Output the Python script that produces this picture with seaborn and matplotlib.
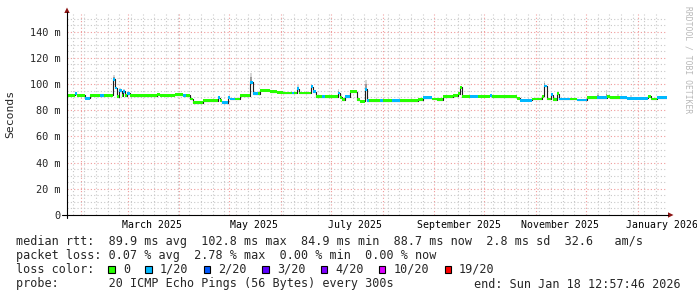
import matplotlib
matplotlib.use("Agg")
import matplotlib.pyplot as plt
import matplotlib.dates as mdates
import matplotlib.transforms as mtransforms
from matplotlib.patches import Rectangle, Polygon
from matplotlib.lines import Line2D
from matplotlib.ticker import MultipleLocator, FixedLocator, FixedFormatter, NullFormatter
import numpy as np
import pandas as pd
import seaborn as sns

# ---------------- data ----------------
start_time = "2025-01-23 12:57:46"
end_time = "2026-01-18 12:57:46"

# median rtt (ms) drawn as steps: day offset from start, value, loss colour index
seg_day = [0, 4.8, 6.0, 10.8, 13.8, 19.8, 22.2, 27.6, 28.8, 30.0, 31.2, 33.0, 33.6,
           34.8, 36.0, 37.8, 54.0, 55.8, 64.8, 69.6, 71.4, 73.8, 75.6, 81.6, 90.6,
           91.8, 93.0, 96.6, 97.8, 100.8, 103.8, 109.8, 111.6, 114.6, 115.8, 121.8,
           126.0, 129.6, 135.0, 136.2, 138.0, 139.2, 146.4, 147.6, 149.4, 153.0,
           154.8, 162.6, 163.8, 165.0, 166.8, 169.8, 174.0, 175.8, 178.8, 180.0,
           181.2, 187.8, 189.6, 195.0, 199.8, 210.6, 213.6, 219.0, 222.0, 225.6,
           231.6, 234.6, 235.8, 237.0, 241.8, 246.6, 253.8, 255.0, 270.0, 271.8,
           279.0, 285.0, 286.2, 288.0, 290.4, 291.6, 294.0, 295.2, 301.8, 306.0,
           312.0, 318.0, 324.0, 325.8, 331.8, 336.0, 348.6, 350.4, 354.0]
seg_median = [91.5, 92.5, 91.5, 89.2, 91.3, 91.0, 91.3, 103.5, 97.0, 90.2, 95.0, 91.0, 94.5,
              91.0, 93.0, 91.0, 92.0, 91.3, 91.8, 91.0, 91.5, 88.6, 85.6, 87.4, 89.4,
              87.4, 85.6, 89.4, 88.6, 88.6, 91.2, 101.5, 92.5, 92.5, 95.2, 94.2,
              93.7, 93.2, 93.2, 93.2, 96.3, 93.2, 98.0, 94.0, 90.2, 90.2,
              90.2, 93.2, 90.0, 88.1, 90.2, 94.0, 88.0, 86.8, 96.0, 87.4,
              87.4, 87.4, 87.4, 87.4, 87.4, 88.1, 89.4, 88.6, 88.1, 90.2,
              91.2, 92.5, 97.5, 90.7, 90.7, 90.7, 91.4, 90.2, 89.0, 87.6,
              88.6, 90.7, 98.5, 88.6, 91.9, 88.1, 92.5, 88.6, 88.6, 87.8,
              89.4, 89.4, 90.7, 89.4, 89.4, 89.2, 90.7, 88.6, 89.4]
seg_loss = [0, 1, 0, 1, 0, 1, 0, 1, 1, 0, 1, 0, 1,
            0, 1, 0, 0, 0, 0, 1, 0, 0, 0, 0, 1,
            0, 1, 1, 1, 0, 0, 1, 1, 0, 0, 0,
            0, 0, 1, 0, 1, 0, 1, 1, 0, 1,
            0, 1, 0, 0, 1, 0, 0, 0, 1, 1,
            0, 1, 0, 1, 0, 0, 1, 0, 0, 0,
            0, 0, 0, 0, 1, 0, 1, 0, 0, 1,
            0, 0, 1, 0, 1, 0, 0, 1, 0, 1,
            0, 1, 0, 0, 1, 1, 0, 0, 1]

# smoke (ping spread) peaks visible above the median
smoke_day = [27.6, 31.2, 33.6, 109.8, 138.0, 146.4, 162.6, 178.8, 235.8, 286.2,
             318.0, 323.4, 330.0, 337.8]
smoke_top = [107.0, 97.0, 96.0, 108.6, 99.0, 99.0, 96.5, 103.4, 98.5, 102.2,
             93.0, 95.5, 92.5, 91.5]

ytick_values = [0, 20, 40, 60, 80, 100, 120, 140]
ytick_labels = ["0", "20 m", "40 m", "60 m", "80 m", "100 m", "120 m", "140 m"]
month_labels = ["March 2025", "May 2025", "July 2025", "September 2025",
                "November 2025", "January 2026"]

loss_labels = ["0", "1/20", "2/20", "3/20", "4/20", "10/20", "19/20"]
loss_colors = ["#26ff00", "#00b8ff", "#0059ff", "#5e00ff", "#7e00ff", "#dd00ff", "#ff0000"]

legend_median = "median rtt:  89.9 ms avg  102.8 ms max  84.9 ms min  88.7 ms now  2.8 ms sd  32.6   am/s"
legend_loss = "packet loss: 0.07 % avg  2.78 % max  0.00 % min  0.00 % now"
legend_color = "loss color:"
legend_probe = "probe:       20 ICMP Echo Pings (56 Bytes) every 300s"
legend_end = "end: Sun Jan 18 12:57:46 2026"
y_unit = "Seconds"
watermark = "RRDTOOL / TOBI OETIKER"

# ---------------- layout ----------------
W, H = 697, 297
PL, PR, PT, PB = 67, 667, 14, 215
YMAX = 153.5

sns.set_style("white")
plt.rcParams["font.family"] = ["DejaVu Sans Mono"]

fig = plt.figure(figsize=(W / 100, H / 100), dpi=100)
fig.patch.set_facecolor("white")
ax = fig.add_axes([PL / W, 1 - PB / H, (PR - PL) / W, (PB - PT) / H])
ax.set_facecolor("white")

t0 = pd.Timestamp(start_time)
t1 = pd.Timestamp(end_time)
seg_t = [t0 + pd.Timedelta(days=d) for d in seg_day]
edges = seg_t + [t1]
df = pd.DataFrame({"time": edges, "median": seg_median + [seg_median[-1]]})

ax.set_xlim(t0, t1)
ax.set_ylim(0, YMAX)

# grid
ax.xaxis.set_major_locator(mdates.MonthLocator())
ax.xaxis.set_minor_locator(mdates.WeekdayLocator(byweekday=mdates.MO))
ax.xaxis.set_major_formatter(NullFormatter())
ax.yaxis.set_major_locator(FixedLocator(ytick_values))
ax.yaxis.set_major_formatter(FixedFormatter(ytick_labels))
ax.yaxis.set_minor_locator(MultipleLocator(5))
ax.set_axisbelow(True)
ax.grid(which="minor", color="#c8c8c8", ls=(0, (1, 2)), lw=0.8)
ax.grid(which="major", color="#f09a9a", ls=(0, (1, 2)), lw=0.8)
for s in ax.spines.values():
    s.set_visible(False)
ax.tick_params(axis="both", which="both", direction="out", color="black", width=0.7)
ax.tick_params(axis="both", which="major", length=2.2)
ax.tick_params(axis="both", which="minor", length=1.2)
ax.tick_params(axis="y", which="major", labelsize=7.4, pad=2.5)

# smoke
sw = pd.Timedelta(days=0.9)
for d, top in zip(smoke_day, smoke_top):
    k = max(i for i in range(len(seg_day)) if seg_day[i] <= d)
    m = seg_median[k]
    t = t0 + pd.Timedelta(days=d)
    ax.fill_between([t, t + sw], m, top, color="#d6d6d6", lw=0, zorder=2)
    ax.fill_between([t, t + sw], m, m + 0.55 * (top - m), color="#9c9c9c", lw=0, zorder=2)

# black median line
sns.lineplot(data=df, x="time", y="median", drawstyle="steps-post", color="#202020",
             lw=0.8, ax=ax, zorder=3, legend=False)

# loss coloured median band
hw = 1.1
for i in range(len(seg_day)):
    ax.fill_between([edges[i], edges[i + 1]], seg_median[i] - hw, seg_median[i] + hw,
                    color=loss_colors[seg_loss[i]], lw=0, zorder=4)

ax.set_xlabel("")
ax.set_ylabel("")

# month labels (centered about half a month after the month start)
blend = mtransforms.blended_transform_factory(ax.transData, fig.transFigure)
for lab in month_labels:
    tm = pd.to_datetime(lab, format="%B %Y") + pd.Timedelta(days=14.5)
    ax.text(tm, 1 - 225 / H, lab, transform=blend, ha="center", va="center",
            fontsize=7.1, color="black", clip_on=False)

# axes lines and arrows (pixel coords, y from top)
def P(x, y):
    return (x / W, 1 - y / H)

fig.add_artist(Line2D([P(62, 0)[0], P(668, 0)[0]], [P(0, 215)[1]] * 2,
                      transform=fig.transFigure, color="black", lw=0.8))
fig.add_artist(Line2D([P(67, 0)[0]] * 2, [P(0, 218)[1], P(0, 12)[1]],
                      transform=fig.transFigure, color="black", lw=0.8))
arrow_col = "#8c1414"
fig.add_artist(Polygon([P(64.3, 13), P(69.7, 13), P(67, 7.5)], closed=True,
                       transform=fig.transFigure, color=arrow_col, lw=0))
fig.add_artist(Polygon([P(668, 212.3), P(668, 217.7), P(673.5, 215)], closed=True,
                       transform=fig.transFigure, color=arrow_col, lw=0))

# unit and watermark
fig.text(*P(10, 114), y_unit, rotation=90, ha="center", va="center", fontsize=8.2)
fig.text(*P(688, 60), watermark, rotation=270, ha="center", va="center",
         fontsize=5.8, color="#b8b8b8")

# legend
LX = 16
FS = 8.5
CW = 7.1
fig.text(*P(LX, 241), legend_median, ha="left", va="center", fontsize=FS)
fig.text(*P(LX, 255.5), legend_loss, ha="left", va="center", fontsize=FS)
fig.text(*P(LX, 269.5), legend_color, ha="left", va="center", fontsize=FS)
fig.text(*P(LX, 284), legend_probe, ha="left", va="center", fontsize=FS)
fig.text(*P(681, 284), legend_end, ha="right", va="center", fontsize=FS)

x = LX + 13 * CW
for lab, col in zip(loss_labels, loss_colors):
    bx, by = P(x, 272.5)
    fig.add_artist(Rectangle((bx, by), 6.5 / W, 7 / H, transform=fig.transFigure,
                             facecolor=col, edgecolor="black", lw=0.8))
    fig.text(*P(x + 14.5, 269.5), lab, ha="left", va="center", fontsize=FS)
    x += 7 + 8 + len(lab) * CW + 15

fig.savefig("out.png", dpi=100, facecolor="white")
